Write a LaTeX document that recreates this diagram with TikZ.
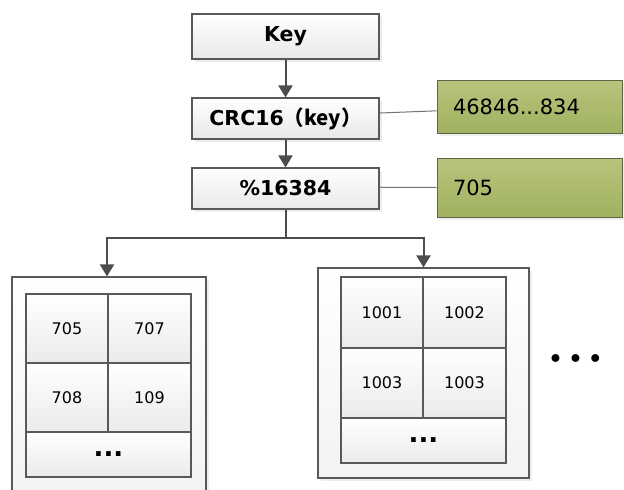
\documentclass[tikz,border=0pt]{standalone}
\usepackage{fontspec}
\setmainfont{DejaVu Sans}
\newfontfamily\cjk{Noto Sans CJK SC}
\usetikzlibrary{arrows.meta,shadows,calc}
\definecolor{edge}{HTML}{595959}
\definecolor{wire}{HTML}{4D4D4D}
\definecolor{olivetop}{HTML}{B8C47C}
\definecolor{olivebot}{HTML}{A0B160}
\definecolor{oliveedge}{HTML}{5E6446}
\tikzset{
  softshadow/.style={drop shadow={shadow xshift=3pt,shadow yshift=-3pt,fill=black!14}},
  stepbox/.style={rectangle,draw=edge,line width=1.1pt,top color=white,bottom color=black!9,
    softshadow,inner sep=0pt,font=\fontsize{20.5}{23}\selectfont\bfseries},
  valuebox/.style={rectangle,draw=oliveedge,line width=1pt,top color=olivetop,bottom color=olivebot,
    softshadow,inner sep=0pt,minimum width=185pt,text width=153pt,align=left,
    font=\fontsize{21}{24}\selectfont},
  holder/.style={rectangle,draw=edge,line width=1.1pt,top color=white,bottom color=black!5,
    softshadow,inner sep=0pt},
  cell/.style={rectangle,draw=edge,line width=1.1pt,top color=white,bottom color=black!8,
    inner sep=0pt,font=\fontsize{16}{19}\selectfont},
  morecell/.style={cell,minimum width=165pt,minimum height=45pt,
    font=\fontsize{26}{28}\selectfont\bfseries},
  flow/.style={draw=wire,line width=2pt,-{Triangle[width=14pt,length=12pt]}},
  trunk/.style={draw=wire,line width=2pt},
  tie/.style={draw=black!55,line width=1pt},
}
\begin{document}
\begin{tikzpicture}[x=1pt,y=-1pt]
\useasboundingbox (0,0) rectangle (624,490);
\clip (0,0) rectangle (624,490);

% hashing steps
\node[stepbox,minimum width=187pt,minimum height=45pt] (key) at (285.5,36.5) {Key};
\node[stepbox,minimum width=187pt,minimum height=41pt] (crc) at (285.5,118.5) {CRC16\cjk{（}key\cjk{）}};
\node[stepbox,minimum width=187pt,minimum height=41pt] (mod) at (285.5,188.5) {\%16384};

% intermediate values
\node[valuebox,minimum height=53pt] (hash) at (529.5,106.5) {46846...834};
\node[valuebox,minimum height=59pt] (slot) at (529.5,187.5) {705};

\draw[flow] (key) -- (crc);
\draw[flow] (crc) -- (mod);
\draw[tie] ($(crc.north east)!0.37!(crc.south east)$) -- ($(hash.north west)!0.58!(hash.south west)$);
\draw[tie] ($(mod.north east)!0.47!(mod.south east)$) -- ($(slot.north west)!0.5!(slot.south west)$);

% slot holders
\node[holder,minimum width=194pt,minimum height=230pt] (left) at (109,392) {};
\node[holder,minimum width=211pt,minimum height=210pt] (right) at (423.5,373) {};

\coordinate (split) at (285.5,238);
\draw[trunk] (mod.south) -- (split);
\draw[flow] (split) -| ([xshift=-2pt]left.north);
\draw[flow] (split) -| (right.north);

% slots of the first holder
\begin{scope}[every node/.append style={cell}]
\node[minimum width=82pt,minimum height=69pt] (a1) at (67,328.5) {705};
\node[minimum width=83pt,minimum height=69pt] (a2) at (149.5,328.5) {707};
\node[minimum width=82pt,minimum height=69pt] (a3) at (67,397.5) {708};
\node[minimum width=83pt,minimum height=69pt] (a4) at (149.5,397.5) {109};
\end{scope}
\node[morecell] (a5) at (108.5,454.5) {...};

% slots of the second holder
\begin{scope}[every node/.append style={cell}]
\node[minimum width=82pt,minimum height=71pt] (b1) at (382,312.5) {1001};
\node[minimum width=83pt,minimum height=71pt] (b2) at (464.5,312.5) {1002};
\node[minimum width=82pt,minimum height=70pt] (b3) at (382,383) {1003};
\node[minimum width=83pt,minimum height=70pt] (b4) at (464.5,383) {1003};
\end{scope}
\node[morecell] (b5) at (423.5,440.5) {...};

\node[font=\fontsize{27}{28}\selectfont,inner sep=0pt] (more) at (575.5,362) {•\hspace{4pt}•\hspace{4pt}•};
\end{tikzpicture}
\end{document}
